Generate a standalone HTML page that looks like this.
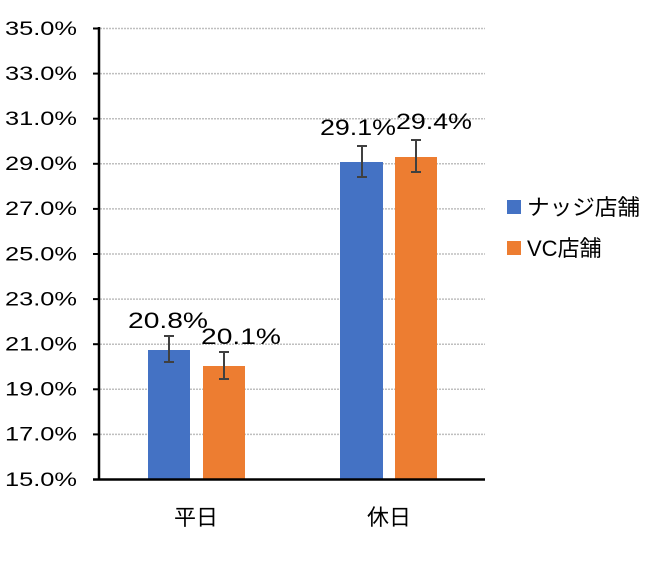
<!DOCTYPE html>
<html><head><meta charset="utf-8"><style>
body{margin:0;background:#fff}
svg text{font-family:"Liberation Sans","Noto Sans CJK JP",sans-serif;fill:#000}
</style></head><body>
<svg width="650" height="558" xmlns="http://www.w3.org/2000/svg">
<g stroke="#bfbfbf" stroke-width="1.5" stroke-dasharray="2,1">
<line x1="100" x2="485" y1="28.5" y2="28.5"/>
<line x1="100" x2="485" y1="73.6" y2="73.6"/>
<line x1="100" x2="485" y1="118.7" y2="118.7"/>
<line x1="100" x2="485" y1="163.8" y2="163.8"/>
<line x1="100" x2="485" y1="208.9" y2="208.9"/>
<line x1="100" x2="485" y1="254" y2="254"/>
<line x1="100" x2="485" y1="299.1" y2="299.1"/>
<line x1="100" x2="485" y1="344.2" y2="344.2"/>
<line x1="100" x2="485" y1="389.3" y2="389.3"/>
<line x1="100" x2="485" y1="434.4" y2="434.4"/>
</g>
<rect x="148" y="350" width="42" height="129" fill="#4472c4"/>
<rect x="203" y="366" width="42" height="113" fill="#ed7d31"/>
<rect x="340" y="162" width="43" height="317" fill="#4472c4"/>
<rect x="395" y="157" width="42" height="322" fill="#ed7d31"/>
<g stroke="#404040" stroke-width="2">
<line x1="169" x2="169" y1="336" y2="362"/><line x1="164" x2="174" y1="336" y2="336"/><line x1="164" x2="174" y1="362" y2="362"/>
<line x1="224" x2="224" y1="352" y2="379"/><line x1="219" x2="229" y1="352" y2="352"/><line x1="219" x2="229" y1="379" y2="379"/>
<line x1="362" x2="362" y1="146" y2="177"/><line x1="357" x2="367" y1="146" y2="146"/><line x1="357" x2="367" y1="177" y2="177"/>
<line x1="416" x2="416" y1="140" y2="172"/><line x1="411" x2="421" y1="140" y2="140"/><line x1="411" x2="421" y1="172" y2="172"/>
</g>
<g stroke="#000" stroke-width="2.5">
<line x1="99" x2="99" y1="27" y2="480"/>
<line x1="93" x2="485" y1="479.5" y2="479.5"/>
</g>
<g stroke="#000" stroke-width="2">
<line x1="93" x2="99" y1="28.5" y2="28.5"/><line x1="93" x2="99" y1="73.6" y2="73.6"/><line x1="93" x2="99" y1="118.7" y2="118.7"/><line x1="93" x2="99" y1="163.8" y2="163.8"/><line x1="93" x2="99" y1="208.9" y2="208.9"/><line x1="93" x2="99" y1="254" y2="254"/><line x1="93" x2="99" y1="299.1" y2="299.1"/><line x1="93" x2="99" y1="344.2" y2="344.2"/><line x1="93" x2="99" y1="389.3" y2="389.3"/><line x1="93" x2="99" y1="434.4" y2="434.4"/>
</g>
<g font-size="19">
<text x="5" y="35" textLength="72" lengthAdjust="spacingAndGlyphs">35.0%</text><text x="5" y="80" textLength="72" lengthAdjust="spacingAndGlyphs">33.0%</text><text x="5" y="125" textLength="72" lengthAdjust="spacingAndGlyphs">31.0%</text><text x="5" y="170" textLength="72" lengthAdjust="spacingAndGlyphs">29.0%</text><text x="5" y="215" textLength="72" lengthAdjust="spacingAndGlyphs">27.0%</text><text x="5" y="260.5" textLength="72" lengthAdjust="spacingAndGlyphs">25.0%</text><text x="5" y="305.5" textLength="72" lengthAdjust="spacingAndGlyphs">23.0%</text><text x="5" y="350.5" textLength="72" lengthAdjust="spacingAndGlyphs">21.0%</text><text x="5" y="395.5" textLength="72" lengthAdjust="spacingAndGlyphs">19.0%</text><text x="5" y="440.5" textLength="72" lengthAdjust="spacingAndGlyphs">17.0%</text><text x="5" y="486" textLength="72" lengthAdjust="spacingAndGlyphs">15.0%</text>
</g>
<g font-size="22">
<text x="128" y="328" textLength="80" lengthAdjust="spacingAndGlyphs">20.8%</text><text x="201" y="344" textLength="80" lengthAdjust="spacingAndGlyphs">20.1%</text>
<text x="320" y="135" textLength="76" lengthAdjust="spacingAndGlyphs">29.1%</text><text x="396" y="129" textLength="76" lengthAdjust="spacingAndGlyphs">29.4%</text>
</g>
<g font-size="22" text-anchor="middle">
<text x="196" y="525">平日</text><text x="389" y="525">休日</text>
</g>
<rect x="507" y="200" width="14" height="14" fill="#4472c4"/>
<rect x="507" y="241" width="14" height="14" fill="#ed7d31"/>
<g font-size="22"><text x="527" y="215" textLength="113" lengthAdjust="spacingAndGlyphs">ナッジ店舗</text><text x="527" y="256">VC店舗</text></g>
</svg>
</body></html>
